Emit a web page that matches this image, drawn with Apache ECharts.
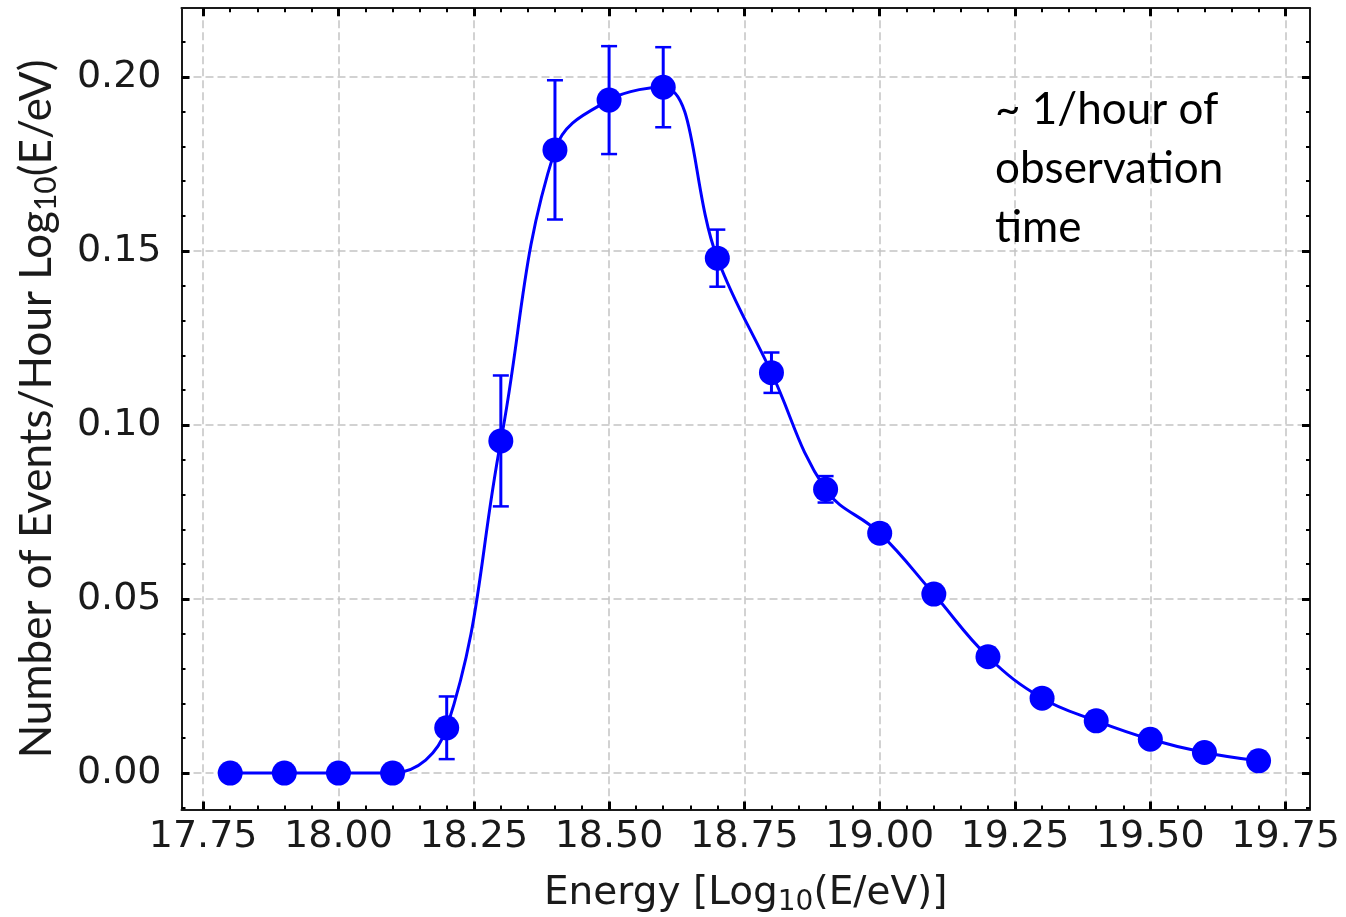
<!DOCTYPE html>
<html>
<head>
<meta charset="utf-8">
<title>Events per hour vs energy</title>
<script src="https://cdn.jsdelivr.net/npm/echarts@6/dist/echarts.min.js"></script>
<style>
  html, body { margin: 0; padding: 0; background: #ffffff; }
  #chart { width: 1346px; height: 917px; }
</style>
</head>
<body>
<div id="chart"></div>
<script>
// Energy bins, log10(E/eV)
const energy = [17.8, 17.9, 18.0, 18.1, 18.2, 18.3, 18.4, 18.5, 18.6, 18.7,
                18.8, 18.9, 19.0, 19.1, 19.2, 19.3, 19.4, 19.5, 19.6, 19.7];
// Number of events per hour per log10(E/eV)
const rate = [0.0, 0.0, 0.0, 0.0, 0.0130, 0.0954, 0.1790, 0.1933, 0.1970, 0.1479,
              0.1150, 0.0815, 0.0689, 0.0514, 0.0334, 0.0215, 0.0150, 0.0097, 0.0059, 0.0035];
// Symmetric uncertainty on each rate
const rateErr = [0.0, 0.0, 0.0, 0.0, 0.0090, 0.0188, 0.0200, 0.0155, 0.0115, 0.0082,
                 0.0058, 0.0038, 0.0025, 0.0020, 0.0015, 0.0012, 0.0010, 0.0008, 0.0006, 0.0005];

// Tick positions
const xMajorTicks = [17.75, 18.00, 18.25, 18.50, 18.75, 19.00, 19.25, 19.50, 19.75];
const xMinorTicks = [17.80, 17.85, 17.90, 17.95, 18.05, 18.10, 18.15, 18.20, 18.30, 18.35,
                     18.40, 18.45, 18.55, 18.60, 18.65, 18.70, 18.80, 18.85, 18.90, 18.95,
                     19.05, 19.10, 19.15, 19.20, 19.30, 19.35, 19.40, 19.45, 19.55, 19.60,
                     19.65, 19.70];
const yMajorTicks = [0.00, 0.05, 0.10, 0.15, 0.20];
const yMinorTicks = [-0.01, 0.01, 0.02, 0.03, 0.04, 0.06, 0.07, 0.08, 0.09, 0.11, 0.12,
                     0.13, 0.14, 0.16, 0.17, 0.18, 0.19, 0.21];

const X_MIN = 17.71, X_MAX = 19.795;
const Y_MIN = -0.0105, Y_MAX = 0.2197;

const BLUE = '#0000ff';
const FRAME = '#1a1a1a';
const TICK_FONT = 'DejaVu Sans';
const NAME_FONT = 'Lato';

const points = energy.map((e, i) => [e, rate[i]]);
const errData = energy.map((e, i) => [e, rate[i], rateErr[i]]).filter(d => d[2] > 0);

const gridLine = { show: true, lineStyle: { color: '#c4c4c4', width: 1.5, type: [8, 4] } };

function majorX(position, withLabels) {
  return {
    type: 'value', position: position, min: X_MIN, max: X_MAX, gridIndex: 0,
    axisLine: { show: true, onZero: false, lineStyle: { color: FRAME, width: 2 } },
    axisTick: { show: true, inside: true, length: 8, customValues: xMajorTicks,
                lineStyle: { color: '#000', width: 3 } },
    axisLabel: withLabels ? {
      show: true, customValues: xMajorTicks, margin: 9,
      fontFamily: TICK_FONT, fontSize: 38, color: '#1a1a1a',
      formatter: v => v.toFixed(2)
    } : { show: false },
    splitLine: withLabels ? gridLine : { show: false }
  };
}
function minorX(position) {
  return {
    type: 'value', position: position, min: X_MIN, max: X_MAX, gridIndex: 0,
    axisLine: { show: false, onZero: false },
    axisTick: { show: true, inside: true, length: 4, customValues: xMinorTicks,
                lineStyle: { color: '#000', width: 2 } },
    axisLabel: { show: false },
    splitLine: { show: false }
  };
}
function majorY(position, withLabels) {
  return {
    type: 'value', position: position, min: Y_MIN, max: Y_MAX, gridIndex: 0,
    axisLine: { show: true, onZero: false, lineStyle: { color: FRAME, width: 2 } },
    axisTick: { show: true, inside: true, length: 8, customValues: yMajorTicks,
                lineStyle: { color: '#000', width: 3 } },
    axisLabel: withLabels ? {
      show: true, customValues: yMajorTicks, margin: 20,
      fontFamily: TICK_FONT, fontSize: 38, color: '#1a1a1a',
      formatter: v => v.toFixed(2)
    } : { show: false },
    splitLine: withLabels ? gridLine : { show: false }
  };
}
function minorY(position) {
  return {
    type: 'value', position: position, min: Y_MIN, max: Y_MAX, gridIndex: 0,
    axisLine: { show: false, onZero: false },
    axisTick: { show: true, inside: true, length: 4, customValues: yMinorTicks,
                lineStyle: { color: '#000', width: 2 } },
    axisLabel: { show: false },
    splitLine: { show: false }
  };
}

const xBottom = majorX('bottom', true);
xBottom.name = '{m|Energy [Log}{s|10}{m|(E/eV)]}';
xBottom.nameLocation = 'middle';
xBottom.nameGap = 61;
xBottom.nameTextStyle = {
  rich: {
    m: { fontFamily: TICK_FONT, fontSize: 39, color: '#1a1a1a', lineHeight: 46 },
    s: { fontFamily: TICK_FONT, fontSize: 28, color: '#1a1a1a', lineHeight: 28, verticalAlign: 'bottom' }
  }
};

const yLeft = majorY('left', true);
yLeft.name = '{m|Number of Events/Hour Log}{s|10}{m|(E/eV)}';
yLeft.nameLocation = 'middle';
yLeft.nameGap = 120;
yLeft.nameTextStyle = {
  rich: {
    m: { fontFamily: NAME_FONT, fontSize: 44, color: '#1a1a1a', lineHeight: 50 },
    s: { fontFamily: NAME_FONT, fontSize: 30, color: '#1a1a1a', lineHeight: 30, verticalAlign: 'bottom' }
  }
};

const chart = echarts.init(document.getElementById('chart'), null, { renderer: 'canvas' });
chart.setOption({
  backgroundColor: '#ffffff',
  animation: false,
  grid: { left: 181.5, right: 36, top: 8.2, bottom: 107.4, containLabel: false, outerBoundsMode: 'none' },
  xAxis: [xBottom, majorX('top', false), minorX('bottom'), minorX('top')],
  yAxis: [yLeft, majorY('right', false), minorY('left'), minorY('right')],
  series: [
    {
      name: 'errors',
      type: 'custom',
      xAxisIndex: 0, yAxisIndex: 0,
      z: 3,
      data: errData,
      renderItem: function (params, api) {
        const x = api.value(0), y = api.value(1), e = api.value(2);
        const top = api.coord([x, y + e]);
        const bot = api.coord([x, y - e]);
        const hw = 8;
        const st = { stroke: BLUE, lineWidth: 3 };
        const capSt = { stroke: BLUE, lineWidth: 2.5 };
        return {
          type: 'group',
          children: [
            { type: 'line', shape: { x1: top[0], y1: top[1], x2: bot[0], y2: bot[1] }, style: st },
            { type: 'line', shape: { x1: top[0] - hw, y1: top[1], x2: top[0] + hw, y2: top[1] }, style: capSt },
            { type: 'line', shape: { x1: bot[0] - hw, y1: bot[1], x2: bot[0] + hw, y2: bot[1] }, style: capSt }
          ]
        };
      }
    },
    {
      name: 'curve',
      type: 'line',
      xAxisIndex: 0, yAxisIndex: 0,
      z: 4,
      data: points,
      smooth: 0.4,
      showSymbol: false,
      lineStyle: { color: BLUE, width: 3 }
    },
    {
      name: 'rate',
      type: 'scatter',
      xAxisIndex: 0, yAxisIndex: 0,
      z: 5,
      data: points,
      symbol: 'circle',
      symbolSize: 25,
      itemStyle: { color: BLUE, opacity: 1 }
    }
  ],
  graphic: [
    {
      type: 'text',
      left: 995,
      top: 80,
      z: 10,
      style: {
        text: '~ 1/hour of\nobservation\ntime',
        font: '44px Lato',
        lineHeight: 59,
        fill: '#000000'
      }
    }
  ]
});
</script>
</body>
</html>
